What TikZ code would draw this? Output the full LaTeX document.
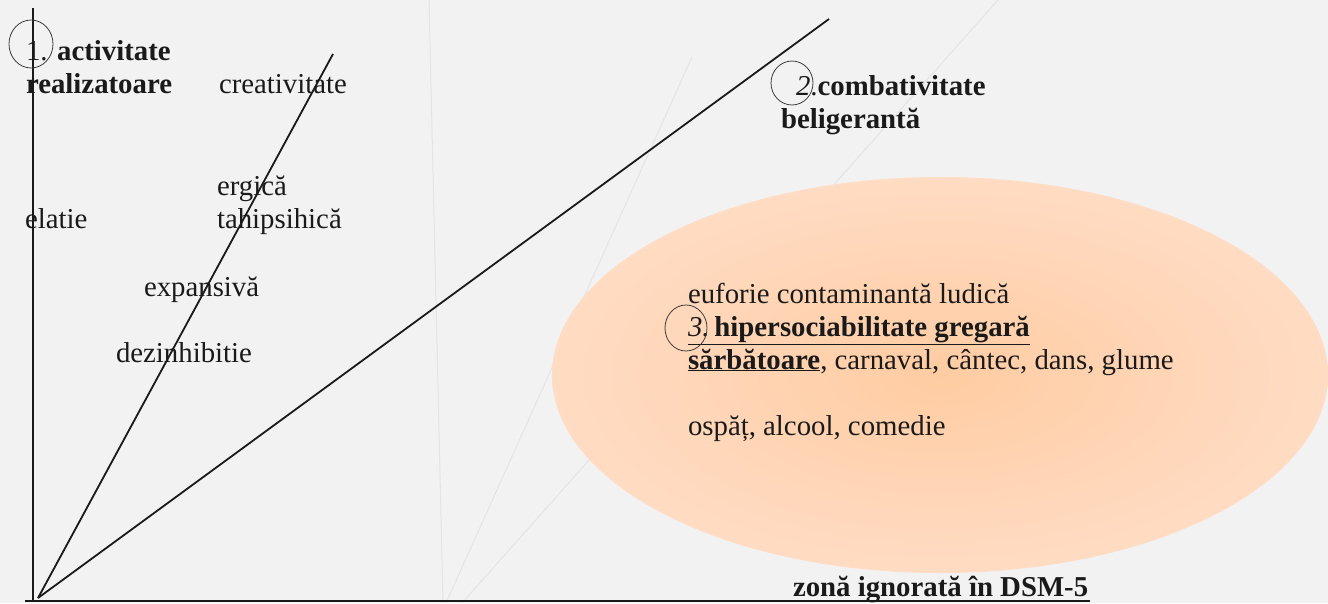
\documentclass[tikz,border=0pt]{standalone}
\usepackage{fontspec}
\setmainfont{Liberation Serif}
\usetikzlibrary{shapes.geometric}
\definecolor{bgc}{HTML}{F2F2F2}
\definecolor{faintc}{HTML}{E4E4E4}
\definecolor{peachin}{RGB}{255,204,162}
\definecolor{peachmid}{RGB}{255,218,192}
\definecolor{peachout}{RGB}{255,233,218}
\definecolor{inkc}{HTML}{1A1A1A}
\pgfdeclareradialshading{peachzone}{\pgfpoint{0bp}{0bp}}{%
  color(0bp)=(peachin); color(22bp)=(peachmid); color(50bp)=(peachout); color(100bp)=(peachout)}
\begin{document}
\begin{tikzpicture}[x=1pt,y=-1pt,
  lbl/.style={anchor=base west, inner sep=0pt, outer sep=0pt, text=inkc,
    font=\fontsize{28.8}{33}\selectfont},
  mline/.style={lbl, align=left},
  axisline/.style={line width=2pt, draw=inkc},
  ray/.style={line width=1.8pt, draw=inkc},
  faint/.style={line width=1pt, draw=faintc},
  ring/.style={ellipse, draw=inkc!85, line width=0.8pt, inner sep=0pt}]
\useasboundingbox (0,0) rectangle (1328,603);
\clip (0,0) rectangle (1328,603);
\fill[bgc] (0,0) rectangle (1328,603);
% faint guide lines
\coordinate (fa0) at (443,603);
\coordinate (fa1) at (429,0);
\coordinate (fb0) at (446,603);
\coordinate (fb1) at (692,57);
\coordinate (fc0) at (462,603);
\coordinate (fc1) at (998,0);
\draw[faint] (fa0) -- (fa1);
\draw[faint] (fb0) -- (fb1);
\draw[faint] (fc0) -- (fc1);
% shaded zone
\shade[shading=peachzone] (940,375) ellipse [x radius=388pt, y radius=198pt];
% axes and rays
\coordinate (O) at (38,598);
\coordinate (ytop) at (33,8);
\coordinate (ybot) at (33,601);
\coordinate (xl) at (25,601);
\coordinate (xr) at (1090,601);
\coordinate (r1) at (333,54);
\coordinate (r2) at (829,19);
\draw[axisline] (ytop) -- (ybot);
\draw[axisline, line width=2.6pt] (xl) -- (xr);
\draw[ray] (O) -- (r1);
\draw[ray] (O) -- (r2);
% labels (multi-line nodes: base = last line)
\node[mline] (t1) at (26,93) {1. \textbf{activitate}\\\textbf{realizatoare}};
\node[lbl] (crea) at (219,93) {creativitate};
\node[mline] (ergi) at (217,228) {ergică\\tahipsihică};
\node[lbl] (elat) at (25,228) {elatie};
\node[lbl] (expa) at (144,296) {expansivă};
\node[lbl] (dezi) at (116,362) {dezinhibitie};
\node[mline] (t2) at (781,128) {\hspace{15pt}\textit{2}.\textbf{combativitate}\\\textbf{beligerantă}};
\node[mline] (t3) at (688,435) {euforie contaminantă ludică\\
  \underline{\textit{3.}\,\textbf{hipersociabilitate gregară}}\\
  \underline{\textbf{sărbătoare}}, carnaval, cântec, dans, glume\\
  \strut\\
  ospăț, alcool, comedie};
\node[lbl] (zona) at (793,596) {\textbf{zonă ignorată în DSM-5}};
% rings
\node[ring, minimum width=44pt, minimum height=48pt] (c1) at (31,44) {};
\node[ring, minimum width=42pt, minimum height=44pt] (c2) at (792,83) {};
\node[ring, minimum width=42pt, minimum height=46pt] (c3) at (686,328) {};
\end{tikzpicture}
\end{document}
